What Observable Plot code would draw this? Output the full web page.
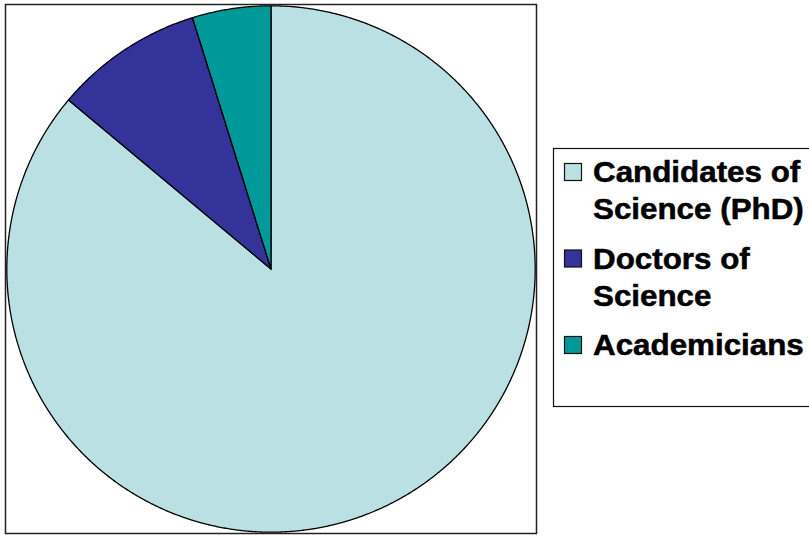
<!DOCTYPE html>
<html>
<head>
<meta charset="utf-8">
<script src="https://cdn.jsdelivr.net/npm/d3@7"></script>
<script src="https://cdn.jsdelivr.net/npm/@observablehq/plot@0.6"></script>
<style>
  html, body { margin: 0; padding: 0; background: #fff; }
  #wrap { position: relative; width: 809px; height: 535px; overflow: hidden; }
  #legend { position: absolute; left: 0; top: 0; pointer-events: none; }
</style>
</head>
<body>
<div id="wrap"></div>
<script>
// ---- data ----
const categories = ["Candidates of Science (PhD)", "Doctors of Science", "Academicians"];
const legendLines = [["Candidates of", "Science (PhD)"], ["Doctors of", "Science"], ["Academicians"]];
const shares = [86.1, 9.1, 4.8];
const colors = ["#BBE0E3", "#333399", "#009999"];

// ---- build sector polygons from the data (clockwise from 12 o'clock) ----
const arcs = d3.pie().sort(null).value(d => d)(shares);
const pts = [];
arcs.forEach((a, i) => {
  const key = categories[i];
  const n = Math.max(2, Math.ceil((a.endAngle - a.startAngle) / 0.005));
  pts.push({key, x: 0, y: 0});
  for (let k = 0; k <= n; k++) {
    const t = a.startAngle + (a.endAngle - a.startAngle) * k / n;
    pts.push({key, x: Math.sin(t), y: Math.cos(t)});
  }
  pts.push({key, x: 0, y: 0});
});

const R = 1.005;
const chart = Plot.plot({
  width: 809,
  height: 535,
  marginLeft: 5,
  marginRight: 273,
  marginTop: 4,
  marginBottom: 2,
  x: {domain: [-R, R], axis: null},
  y: {domain: [-R, R], axis: null},
  color: {domain: categories, range: colors},
  style: {background: "transparent"},
  marks: [
    Plot.frame({stroke: "#222", strokeWidth: 1.5}),
    Plot.line(pts, {x: "x", y: "y", z: "key", fill: "key", stroke: "black", strokeWidth: 1.3, strokeLinejoin: "round"})
  ]
});
document.getElementById("wrap").appendChild(chart);

// ---- legend ----
const svg = d3.select("#wrap").append("svg")
  .attr("id", "legend").attr("width", 809).attr("height", 535);
svg.append("rect")
  .attr("x", 553.5).attr("y", 148.5).attr("width", 300).attr("height", 258)
  .attr("fill", "none").attr("stroke", "#111").attr("stroke-width", 1.2);
legendLines.forEach((lines, i) => {
  const base = 182 + i * 86.5;
  svg.append("rect")
    .attr("x", 564.5).attr("y", base - 18.5).attr("width", 17).attr("height", 17)
    .attr("fill", colors[i]).attr("stroke", "#111").attr("stroke-width", 1.2);
  lines.forEach((ln, j) => {
    svg.append("text")
      .attr("transform", `translate(593,${base + j * 37}) scale(1.12,1.03)`)
      .attr("font-family", "'Liberation Sans', Arial, sans-serif")
      .attr("font-weight", "bold")
      .attr("font-size", 28)
      .attr("fill", "#000")
      .attr("stroke", "#000")
      .attr("stroke-width", 0.5)
      .text(ln);
  });
});
</script>
</body>
</html>
